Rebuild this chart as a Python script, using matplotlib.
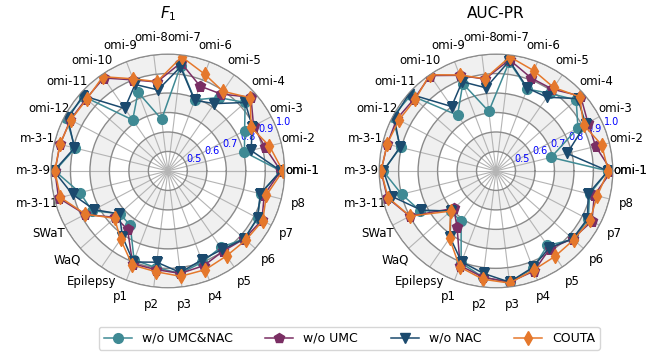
import numpy as np
import matplotlib
matplotlib.use('Agg')
import matplotlib.pyplot as plt

# ------------------------------ data ------------------------------
datasets = ['omi-1', 'omi-2', 'omi-3', 'omi-4', 'omi-5', 'omi-6', 'omi-7',
            'omi-8', 'omi-9', 'omi-10', 'omi-11', 'omi-12',
            'm-3-1', 'm-3-9', 'm-3-11', 'SWaT', 'WaQ', 'Epilepsy',
            'p1', 'p2', 'p3', 'p4', 'p5', 'p6', 'p7', 'p8']
models = ['w/o UMC&NAC', 'w/o UMC', 'w/o NAC', 'COUTA']

# F1
f1_wo_umc_nac = [0.98, 0.805, 0.845, 0.93, 0.858, 0.79, 0.945, 0.667, 0.832, 0.718, 0.975, 0.99,
                 0.89, 0.98, 0.865, 0.84, 0.73, 0.74,
                 0.889, 0.90, 0.93, 0.90, 0.877, 0.925, 0.92, 0.89]
f1_wo_umc = [0.98, 0.913, 0.897, 0.97, 0.88, 0.866, 0.96, 0.86, 0.90, 0.98, 0.96, 0.965,
             0.97, 0.98, 0.978, 0.88, 0.76, 0.764,
             0.91, 0.91, 0.93, 0.92, 0.90, 0.925, 0.945, 0.91]
f1_wo_nac = [0.98, 0.84, 0.89, 0.93, 0.82, 0.788, 0.938, 0.819, 0.875, 0.79, 0.983, 0.98,
             0.894, 0.985, 0.904, 0.827, 0.733, 0.81,
             0.90, 0.872, 0.925, 0.889, 0.89, 0.925, 0.92, 0.889]
f1_couta = [0.99, 0.937, 0.882, 0.966, 0.897, 0.932, 0.99, 0.862, 0.906, 0.988, 0.956, 0.963,
            0.971, 0.98, 0.968, 0.878, 0.766, 0.827,
            0.916, 0.921, 0.945, 0.942, 0.93, 0.935, 0.95, 0.921]

# AUC-PR
pr_wo_umc_nac = [0.975, 0.691, 0.875, 0.95, 0.884, 0.85, 0.965, 0.708, 0.88, 0.748, 0.985, 1.0,
                 0.905, 0.98, 0.899, 0.84, 0.71, 0.715,
                 0.905, 0.95, 0.975, 0.935, 0.865, 0.93, 0.935, 0.895]
pr_wo_umc = [0.993, 0.927, 0.933, 0.98, 0.91, 0.91, 0.975, 0.875, 0.925, 0.995, 0.96, 0.975,
             0.975, 0.99, 0.975, 0.90, 0.689, 0.752,
             0.92, 0.95, 0.975, 0.95, 0.885, 0.925, 0.956, 0.92]
pr_wo_nac = [0.975, 0.776, 0.92, 0.96, 0.86, 0.855, 0.97, 0.83, 0.89, 0.802, 0.997, 0.99,
             0.908, 0.978, 0.949, 0.833, 0.71, 0.815,
             0.899, 0.93, 0.975, 0.93, 0.88, 0.925, 0.93, 0.888]
pr_couta = [0.976, 0.959, 0.908, 0.974, 0.921, 0.95, 0.99, 0.877, 0.927, 1.0, 0.954, 0.963,
            0.976, 0.99, 0.971, 0.899, 0.711, 0.82,
            0.927, 0.96, 0.98, 0.944, 0.933, 0.933, 0.945, 0.935]

r_ticks = [0.5, 0.6, 0.7, 0.8, 0.9, 1.0]

colors = ['#3f8a94', '#7a2e63', '#1b4a6e', '#e5782c']
markers = ['o', 'p', 'v', 'd']

# ------------------------------ plot ------------------------------
fig = plt.figure(figsize=(6.64, 3.58), dpi=100)
ax1 = fig.add_axes([0.0768, 0.1955, 0.352, 0.654], projection='polar')
ax2 = fig.add_axes([0.5710, 0.1955, 0.352, 0.654], projection='polar')

n = len(datasets)
angles = np.linspace(0, 2 * np.pi, n, endpoint=False)
angles_c = np.concatenate([angles, angles[:1]])
labels_c = datasets + datasets[:1]


def draw_radar(ax, series, title):
    full = np.linspace(0, 2 * np.pi, 300)
    # alternating grey bands
    for lo in [0.5, 0.7, 0.9]:
        ax.fill_between(full, lo, lo + 0.1, color='#f0f0f0', zorder=0, lw=0)
    for vals, c, m, lab in zip(series, colors, markers, models):
        v = np.concatenate([vals, vals[:1]])
        ax.plot(angles_c, v, color=c, marker=m, markersize=7, lw=1.1, label=lab)
    ax.set_thetagrids(angles_c * 180 / np.pi, labels_c, fontsize=8.5)
    ax.set_ylim(0.4, 1.0)
    ax.set_yticks(r_ticks)
    ax.set_yticklabels([str(t) for t in r_ticks], color='blue', fontsize=7)
    ax.set_rlabel_position(22)
    ax.xaxis.grid(True, color='#b4b4b4', lw=0.8)
    ax.yaxis.grid(True, color='#8a8a8a', lw=1.0)
    ax.spines['polar'].set_color('#8a8a8a')
    ax.tick_params(axis='x', pad=2)
    ax.set_title(title, fontsize=11, y=1.155, pad=0)


draw_radar(ax1, [f1_wo_umc_nac, f1_wo_umc, f1_wo_nac, f1_couta], '$F_1$')
draw_radar(ax2, [pr_wo_umc_nac, pr_wo_umc, pr_wo_nac, pr_couta], 'AUC-PR')

handles, labs = ax1.get_legend_handles_labels()
fig.legend(handles, labs, loc='lower center', ncol=4, fontsize=9,
           bbox_to_anchor=(0.526, 0.005), handlelength=2.25, columnspacing=2.6)

plt.savefig('out.png', dpi=100)
